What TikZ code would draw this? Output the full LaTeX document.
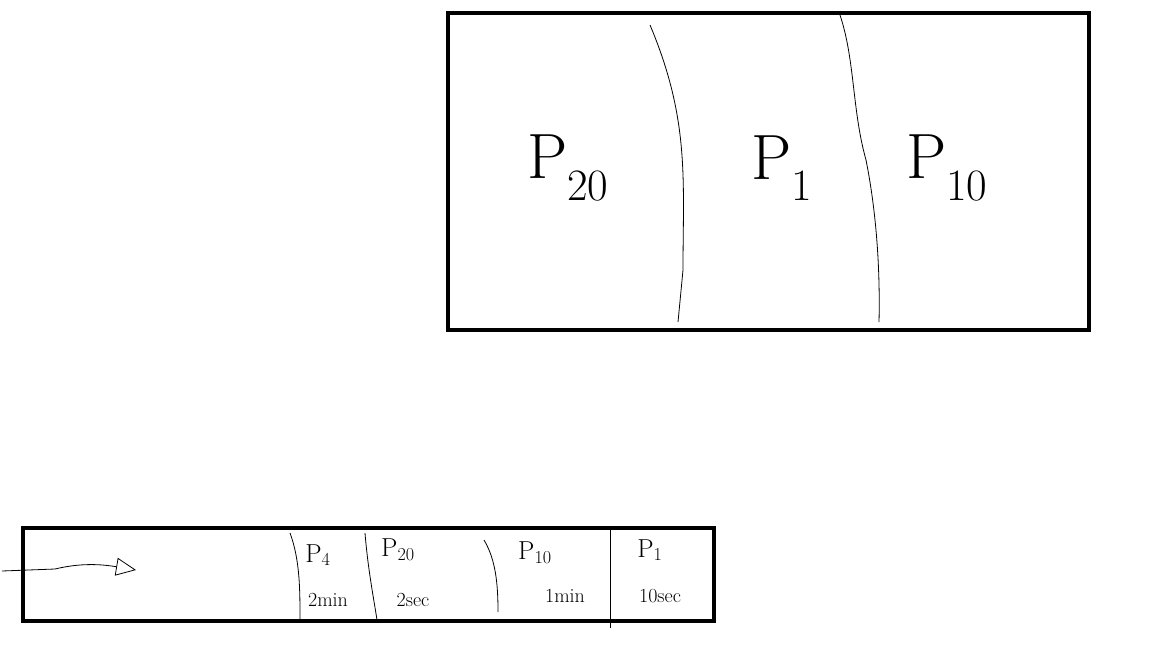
\documentclass[tikz,border=0pt]{standalone}
\usepackage{tikz}
\usetikzlibrary{arrows.meta}

\tikzset{
  frame/.style={line width=4pt},
  divider/.style={line width=0.8pt},
  biglabel/.style={font=\fontsize{64}{66}\selectfont},
  smalllabel/.style={font=\fontsize{26}{28}\selectfont},
  timelabel/.style={font=\fontsize{20}{22}\selectfont},
}

\begin{document}
\begin{tikzpicture}[x=1pt,y=-1pt]
  \useasboundingbox (0,0) rectangle (1151,646);

  % upper box
  \draw[frame] (448,13) rectangle (1089,330);
  \draw[divider] (650,25) .. controls (690,120) and (683,180) .. (683,270) -- (678,322);
  \draw[divider] (840,15) .. controls (855,60) and (852,110) .. (866,160) .. controls (878,220) and (880,280) .. (879,322);
  \node[biglabel] (top20) at (568,168) {P\textsubscript{20}};
  \node[biglabel] (top1) at (782,168) {P\textsubscript{1}};
  \node[biglabel] (top10) at (947,168) {P\textsubscript{10}};

  % lower box
  \draw[frame] (23,528) rectangle (714,621);
  \coordinate (start) at (2,571);
  \coordinate (tip) at (136,570);
  \draw[divider, -{Triangle[open, length=20pt, width=18pt]}] (start) -- (55,569) .. controls (80,563) and (100,564) .. (tip);
  \draw[divider] (290,533) .. controls (300,560) and (300,590) .. (300,620);
  \draw[divider] (365,533) .. controls (368,570) and (374,600) .. (377,620);
  \draw[divider] (484,540) .. controls (496,560) and (498,585) .. (498,612);
  \draw[divider] (610,530) -- (610,628);

  % phase labels
  \node[smalllabel] (p4) at (318,555) {P\textsubscript{4}};
  \node[smalllabel] (p20) at (398,550) {P\textsubscript{20}};
  \node[smalllabel] (p10) at (535,553) {P\textsubscript{10}};
  \node[smalllabel] (p1) at (650,550) {P\textsubscript{1}};
  \node[timelabel] (t4) at (328,600) {2min};
  \node[timelabel] (t20) at (413,600) {2sec};
  \node[timelabel] (t10) at (565,596) {1min};
  \node[timelabel] (t1) at (660,596) {10sec};
\end{tikzpicture}
\end{document}
